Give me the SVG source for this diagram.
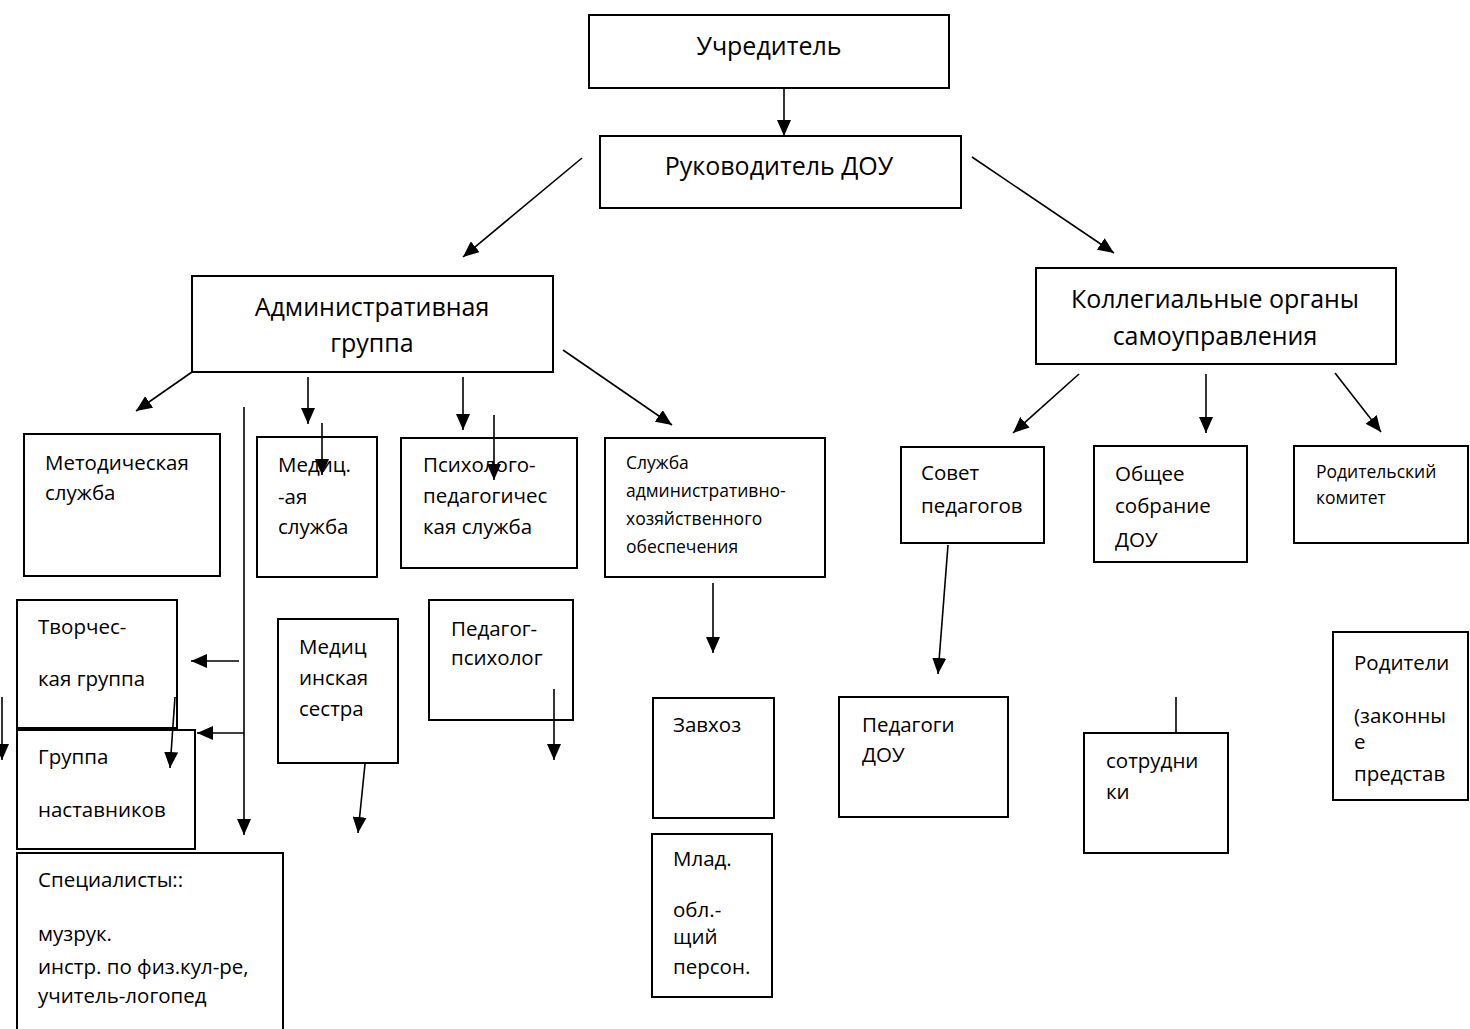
<svg xmlns="http://www.w3.org/2000/svg" width="1470" height="1029" viewBox="0 0 1470 1029">
<style>
  .box { fill: #ffffff; stroke: #000000; stroke-width: 2; }
  .t { font-family: "Open Sans", "Noto Sans", "DejaVu Sans", sans-serif; fill: #000000; font-size: 20.5px; }
  .big { font-size: 25px; text-anchor: middle; }
  .sm { font-size: 17.5px; }
  .ln { stroke: #000000; stroke-width: 1.6; fill: none; }
  .arr { marker-end: url(#ah); }
</style>
<defs>
  <marker id="ah" markerUnits="userSpaceOnUse" markerWidth="16" markerHeight="14" refX="16" refY="7" orient="auto" viewBox="0 0 16 14">
    <path d="M0,0 L16,7 L0,14 z" fill="#000000"/>
  </marker>
</defs>
<rect width="1470" height="1029" fill="#ffffff"/>

<g id="n-uchreditel">
  <rect class="box" x="589" y="15" width="360" height="73"/>
  <text class="t big" x="769" y="55">Учредитель</text>
</g>
<g id="n-rukovoditel">
  <rect class="box" x="600" y="136" width="361" height="72"/>
  <text class="t big" x="779" y="175">Руководитель ДОУ</text>
</g>
<g id="n-admin">
  <rect class="box" x="192" y="276" width="361" height="96"/>
  <text class="t big" x="372" y="316">Административная</text>
  <text class="t big" x="372" y="352">группа</text>
</g>
<g id="n-kolleg">
  <rect class="box" x="1036" y="268" width="360" height="96"/>
  <text class="t big" x="1215" y="308">Коллегиальные органы</text>
  <text class="t big" x="1215" y="345">самоуправления</text>
</g>
<g id="n-metod">
  <rect class="box" x="24" y="434" width="196" height="142"/>
  <text class="t" x="45" y="470">Методическая</text>
  <text class="t" x="45" y="500">служба</text>
</g>
<g id="n-medsl">
  <rect class="box" x="257" y="437" width="120" height="140"/>
  <text class="t" x="278" y="472">Медиц.</text>
  <text class="t" x="278" y="504">-ая</text>
  <text class="t" x="278" y="534">служба</text>
</g>
<g id="n-psych">
  <rect class="box" x="401" y="438" width="176" height="130"/>
  <text class="t" x="423" y="472">Психолого-</text>
  <text class="t" x="423" y="503">педагогичес</text>
  <text class="t" x="423" y="534">кая служба</text>
</g>
<g id="n-aho">
  <rect class="box" x="605" y="438" width="220" height="139"/>
  <text class="t sm" x="626" y="469">Служба</text>
  <text class="t sm" x="626" y="497">административно-</text>
  <text class="t sm" x="626" y="525">хозяйственного</text>
  <text class="t sm" x="626" y="553">обеспечения</text>
</g>
<g id="n-sovet">
  <rect class="box" x="901" y="447" width="143" height="96"/>
  <text class="t" x="921" y="480">Совет</text>
  <text class="t" x="921" y="513">педагогов</text>
</g>
<g id="n-obshee">
  <rect class="box" x="1094" y="446" width="153" height="116"/>
  <text class="t" x="1115" y="481">Общее</text>
  <text class="t" x="1115" y="513">собрание</text>
  <text class="t" x="1115" y="547">ДОУ</text>
</g>
<g id="n-rodkom">
  <rect class="box" x="1294" y="446" width="174" height="97"/>
  <text class="t sm" x="1316" y="478">Родительский</text>
  <text class="t sm" x="1316" y="504">комитет</text>
</g>
<g id="n-tvorch">
  <rect class="box" x="17" y="600" width="160" height="128"/>
  <text class="t" x="38" y="634">Творчес-</text>
  <text class="t" x="38" y="686">кая группа</text>
</g>
<g id="n-nastav">
  <rect class="box" x="17" y="730" width="178" height="119"/>
  <text class="t" x="38" y="764">Группа</text>
  <text class="t" x="38" y="817">наставников</text>
</g>
<g id="n-spec">
  <path class="box" d="M17,1040 L17,853 L283,853 L283,1040"/>
  <text class="t" x="38" y="887">Специалисты::</text>
  <text class="t" x="38" y="941">музрук.</text>
  <text class="t" x="38" y="974">инстр. по физ.кул-ре,</text>
  <text class="t" x="38" y="1003">учитель-логопед</text>
</g>
<g id="n-medsestra">
  <rect class="box" x="278" y="619" width="120" height="144"/>
  <text class="t" x="299" y="654">Медиц</text>
  <text class="t" x="299" y="685">инская</text>
  <text class="t" x="299" y="716">сестра</text>
</g>
<g id="n-pedpsych">
  <rect class="box" x="429" y="600" width="144" height="120"/>
  <text class="t" x="451" y="636">Педагог-</text>
  <text class="t" x="451" y="665">психолог</text>
</g>
<g id="n-zavhoz">
  <rect class="box" x="653" y="698" width="121" height="120"/>
  <text class="t" x="673" y="732">Завхоз</text>
</g>
<g id="n-mlad">
  <rect class="box" x="652" y="834" width="120" height="163"/>
  <text class="t" x="673" y="866">Млад.</text>
  <text class="t" x="673" y="917">обл.-</text>
  <text class="t" x="673" y="944">щий</text>
  <text class="t" x="673" y="974">персон.</text>
</g>
<g id="n-pedagogi">
  <rect class="box" x="839" y="697" width="169" height="120"/>
  <text class="t" x="862" y="732">Педагоги</text>
  <text class="t" x="862" y="762">ДОУ</text>
</g>
<g id="n-sotrudniki">
  <rect class="box" x="1084" y="733" width="144" height="120"/>
  <text class="t" x="1106" y="768">сотрудни</text>
  <text class="t" x="1106" y="799">ки</text>
</g>
<g id="n-roditeli">
  <rect class="box" x="1333" y="632" width="135" height="168"/>
  <text class="t" x="1354" y="670">Родители</text>
  <text class="t" x="1354" y="723">(законны</text>
  <text class="t" x="1354" y="749">е</text>
  <text class="t" x="1354" y="781">представ</text>
</g>

<g id="connectors">
  <line class="ln arr" x1="784" y1="88" x2="784" y2="136"/>
  <line class="ln arr" x1="582" y1="158" x2="463" y2="257"/>
  <line class="ln arr" x1="972" y1="157" x2="1114" y2="253"/>
  <line class="ln arr" x1="192" y1="372" x2="136" y2="411"/>
  <line class="ln arr" x1="308" y1="377" x2="308" y2="424"/>
  <line class="ln arr" x1="322" y1="423" x2="322" y2="475"/>
  <line class="ln arr" x1="463" y1="377" x2="463" y2="430"/>
  <line class="ln arr" x1="494" y1="415" x2="494" y2="480"/>
  <line class="ln arr" x1="563" y1="350" x2="672" y2="425"/>
  <line class="ln arr" x1="244" y1="407" x2="244" y2="835"/>
  <line class="ln arr" x1="239" y1="661" x2="191" y2="661"/>
  <line class="ln arr" x1="244" y1="733" x2="197" y2="733"/>
  <line class="ln arr" x1="175" y1="697" x2="170" y2="768"/>
  <line class="ln arr" x1="2" y1="697" x2="2" y2="760"/>
  <line class="ln arr" x1="365" y1="764" x2="358" y2="833"/>
  <line class="ln arr" x1="554" y1="689" x2="554" y2="760"/>
  <line class="ln arr" x1="713" y1="583" x2="713" y2="653"/>
  <line class="ln arr" x1="1079" y1="374" x2="1013" y2="433"/>
  <line class="ln arr" x1="1206" y1="374" x2="1206" y2="433"/>
  <line class="ln arr" x1="1335" y1="373" x2="1381" y2="432"/>
  <line class="ln arr" x1="948" y1="545" x2="938" y2="674"/>
  <line class="ln" x1="1176" y1="697" x2="1176" y2="733"/>
</g>
</svg>
